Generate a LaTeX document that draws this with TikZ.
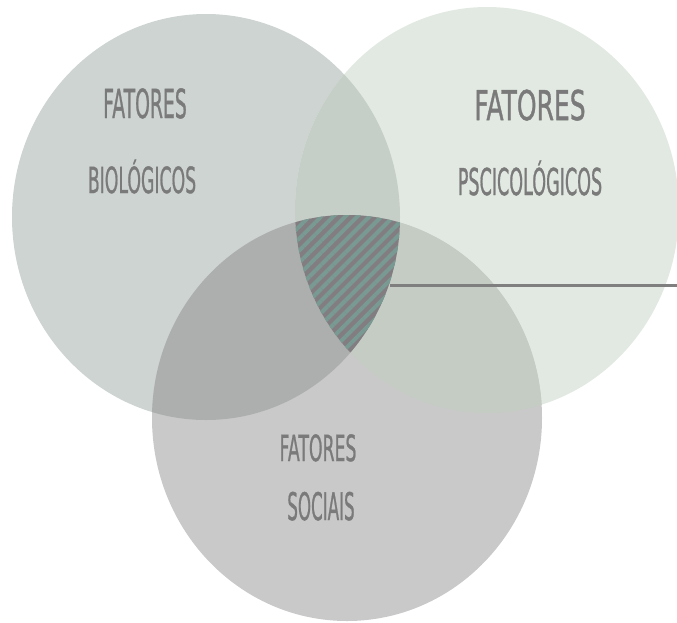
\documentclass[tikz,border=0pt]{standalone}
\usepackage{fontspec}
\usepackage{graphicx}
\newfontfamily\labelfont[FakeBold=1.2]{DejaVu Sans}
\usetikzlibrary{patterns.meta}

\definecolor{bioFill}{HTML}{CDD4D1}
\definecolor{psiFill}{HTML}{E2E9E2}
\definecolor{socFill}{HTML}{C9C9C9}
\definecolor{bioPsiFill}{HTML}{C5CEC7}
\definecolor{bioSocFill}{HTML}{ADAFAE}
\definecolor{psiSocFill}{HTML}{C4CCC4}
\definecolor{coreGray}{HTML}{827D81}
\definecolor{coreTeal}{HTML}{789A92}
\definecolor{labelGray}{HTML}{7A7A7A}
\definecolor{pointerGray}{HTML}{7F7F7F}

% horizontally squeezed caption text
\newcommand{\squeezed}[2]{\scalebox{#1}[1]{#2}}

\begin{document}
\begin{tikzpicture}[
    x=1pt, y=-1pt,
    % Common Styles
    label_text/.style={
        font=\labelfont\fontsize{#1}{#1}\selectfont,
        text=labelGray,
        anchor=base,
        inner sep=0pt
    },
    pointer/.style={
        pointerGray,
        line width=3pt
    }
]
    \useasboundingbox (0,0) rectangle (677,622);

    % ================= CIRCLES =================
    \coordinate (bio) at (206,217);
    \coordinate (psi) at (487,210);
    \coordinate (soc) at (347,418);

    \def\bioPath{(bio) ellipse [x radius=194, y radius=203]}
    \def\psiPath{(psi) ellipse [x radius=192, y radius=203]}
    \def\socPath{(soc) ellipse [x radius=195, y radius=203]}

    % Plain discs
    \fill[bioFill] \bioPath;
    \fill[psiFill] \psiPath;

    % Overlap biological / psychological
    \begin{scope}
        \clip \bioPath;
        \fill[bioPsiFill] \psiPath;
    \end{scope}

    \fill[socFill] \socPath;

    % Overlap biological / social
    \begin{scope}
        \clip \socPath;
        \fill[bioSocFill] \bioPath;
    \end{scope}

    % Overlap psychological / social
    \begin{scope}
        \clip \socPath;
        \fill[psiSocFill] \psiPath;
    \end{scope}

    % Core: all three
    \begin{scope}
        \clip \bioPath;
        \clip \psiPath;
        \fill[coreGray] \socPath;
        \fill[pattern={Lines[angle=45, distance=8.5pt, line width=4pt]},
              pattern color=coreTeal] \socPath;
    \end{scope}

    % Pointer line
    \coordinate (corePointer) at (390,285);
    \coordinate (pointerEnd) at (677,285);
    \draw[pointer] (corePointer) -- (pointerEnd);

    % ================= LABELS =================
    \node[label_text=40] (bioTop) at (145,118) {\squeezed{0.47}{FATORES}};
    \node[label_text=36] (bioBottom) at (142,193) {\squeezed{0.48}{BIOLÓGICOS}};

    \node[label_text=41] (psiTop) at (530,120) {\squeezed{0.61}{FATORES}};
    \node[label_text=37] (psiBottom) at (530,195) {\squeezed{0.475}{PSCICOLÓGICOS}};

    \node[label_text=36] (socTop) at (318,461) {\squeezed{0.48}{FATORES}};
    \node[label_text=38] (socBottom) at (321,520) {\squeezed{0.44}{SOCIAIS}};

\end{tikzpicture}
\end{document}
